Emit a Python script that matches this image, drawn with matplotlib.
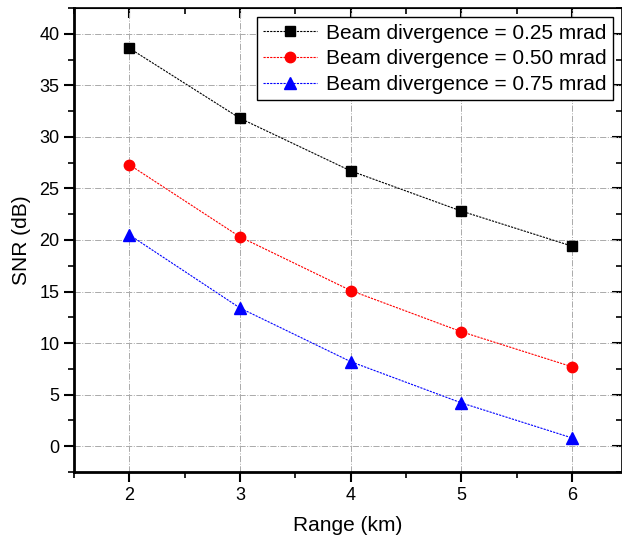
import matplotlib.pyplot as plt
import numpy as np
from matplotlib.ticker import MultipleLocator

plt.rcParams['font.family'] = ['Liberation Sans', 'DejaVu Sans']

range_km = np.array([2, 3, 4, 5, 6])
snr_025 = np.array([38.6, 31.8, 26.7, 22.8, 19.4])
snr_050 = np.array([27.3, 20.3, 15.1, 11.1, 7.7])
snr_075 = np.array([20.5, 13.4, 8.2, 4.2, 0.8])
labels = ['Beam divergence = 0.25 mrad',
          'Beam divergence = 0.50 mrad',
          'Beam divergence = 0.75 mrad']

fig = plt.figure(figsize=(6.22, 5.39), dpi=100)
ax = fig.add_axes([74/622, 67/539, 548/622, 464/539])

ax.plot(range_km, snr_025, color='black', marker='s', markersize=6.5, linewidth=0.8,
        linestyle=(0, (2, 1)), label=labels[0])
ax.plot(range_km, snr_050, color='red', marker='o', markersize=7.5, linewidth=0.8,
        linestyle=(0, (2, 1)), label=labels[1])
ax.plot(range_km, snr_075, color='blue', marker='^', markersize=8, linewidth=0.8,
        linestyle=(0, (2, 1)), label=labels[2])

ax.set_xlim(1.5, 6.45)
ax.set_ylim(-2.5, 42.5)
ax.xaxis.set_major_locator(MultipleLocator(1))
ax.xaxis.set_minor_locator(MultipleLocator(0.5))
ax.yaxis.set_major_locator(MultipleLocator(5))
ax.yaxis.set_minor_locator(MultipleLocator(2.5))

ax.grid(True, which='major', color='#aaaaaa', linestyle='-.', linewidth=0.7)
ax.tick_params(axis='both', which='major', direction='out', length=7, width=1.5,
               labelsize=13)
ax.tick_params(axis='both', which='minor', direction='out', length=4, width=1.2)
for s in ['left', 'bottom']:
    ax.spines[s].set_linewidth(2)
for s in ['top', 'right']:
    ax.spines[s].set_linewidth(1.2)

# inward ticks on top and right
top = ax.secondary_xaxis('top')
top.xaxis.set_major_locator(MultipleLocator(1))
top.xaxis.set_minor_locator(MultipleLocator(0.5))
top.tick_params(which='major', direction='in', length=7, width=1.5, labeltop=False)
top.tick_params(which='minor', direction='in', length=4, width=1.2)
right = ax.secondary_yaxis('right')
right.yaxis.set_major_locator(MultipleLocator(5))
right.yaxis.set_minor_locator(MultipleLocator(2.5))
right.tick_params(which='major', direction='in', length=7, width=1.5, labelright=False)
right.tick_params(which='minor', direction='in', length=4, width=1.2)

ax.set_xlabel('Range (km)', fontsize=15, labelpad=9)
ax.set_ylabel('SNR (dB)', fontsize=15, labelpad=6)

leg = ax.legend(loc='upper right', fontsize=15, frameon=True, fancybox=False,
                edgecolor='black', framealpha=1, borderpad=0.3, labelspacing=0.32,
                handlelength=2.6, handletextpad=0.4, borderaxespad=0.45)
leg.get_frame().set_linewidth(1)

fig.savefig('out.png', dpi=100)
